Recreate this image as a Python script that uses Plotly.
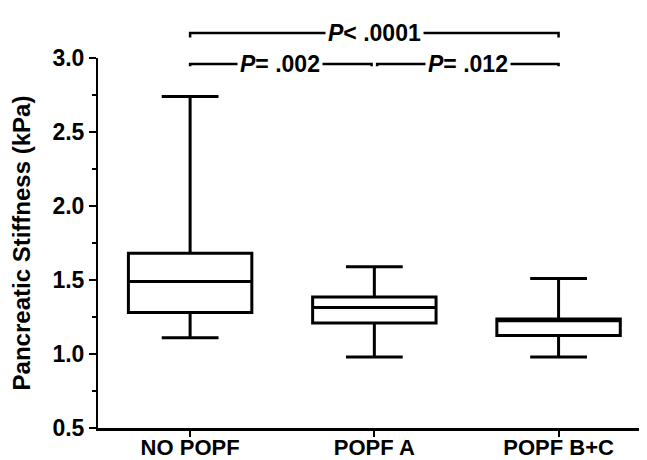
import plotly.graph_objects as go

categories = ["NO POPF", "POPF A", "POPF B+C"]
lower_whisker = [1.11, 0.98, 0.98]
q1_values = [1.28, 1.21, 1.125]
median_values = [1.49, 1.315, 1.225]
q3_values = [1.68, 1.385, 1.237]
upper_whisker = [2.74, 1.59, 1.51]
y_tick_vals = [0.5, 1.0, 1.5, 2.0, 2.5, 3.0]
y_tick_text = ["0.5", "1.0", "1.5", "2.0", "2.5", "3.0"]

FONT = "Liberation Sans, Arial, sans-serif"

fig = go.Figure()
fig.add_trace(go.Box(
    x=categories,
    q1=q1_values,
    median=median_values,
    q3=q3_values,
    lowerfence=lower_whisker,
    upperfence=upper_whisker,
    boxpoints=False,
    fillcolor="white",
    line=dict(color="black", width=3),
    width=0.67,
    whiskerwidth=0.46,
    hoverinfo="skip",
    showlegend=False,
))

# significance brackets (x in category units, y in paper units)
def bracket(x0, x1, yp, hook=0.012):
    fig.add_shape(
        type="path", xref="x", yref="paper",
        path=f"M {x0},{yp - hook} L {x0},{yp} L {x1},{yp} L {x1},{yp - hook}",
        line=dict(color="black", width=2.5),
    )

bracket(0, 2, 1.0676)
bracket(0, 0.985, 0.9838, hook=0.006)
bracket(1.015, 2, 0.9838, hook=0.006)

ann_font = dict(family=FONT, size=23, color="black", weight="bold")
for text, xc, yp in [
    ("<i>P</i>< .0001", 1.0, 1.0676),
    ("<i>P</i>= .002", 0.49, 0.9838),
    ("<i>P</i>= .012", 1.51, 0.9838),
]:
    fig.add_annotation(
        x=xc, y=yp, xref="x", yref="paper", text=text, showarrow=False,
        font=ann_font, bgcolor="white", borderpad=2, yanchor="middle",
    )

# the page body adds an 8 px offset, so the figure is sized to fit the window
fig.update_layout(
    width=639, height=452,
    margin=dict(l=90, r=0, t=50, b=32),
    paper_bgcolor="white", plot_bgcolor="white",
    font=dict(family=FONT, color="black"),
    xaxis=dict(
        type="category",
        range=[-0.5, 2.48],
        automargin=False,
        showline=True, linecolor="black", linewidth=2.5,
        ticks="outside", ticklen=6, tickwidth=2, tickcolor="black",
        ticklabelstandoff=-8,
        tickfont=dict(family=FONT, size=22, color="black", weight="bold"),
        showgrid=False, zeroline=False,
    ),
    yaxis=dict(
        range=[0.5, 3.0],
        automargin=False,
        tickvals=y_tick_vals, ticktext=y_tick_text,
        showline=True, linecolor="black", linewidth=2,
        ticks="outside", ticklen=7, tickwidth=2, tickcolor="black",
        tickfont=dict(family=FONT, size=23, color="black", weight="bold"),
        minor=dict(ticks="outside", ticklen=4, tickwidth=2, tickcolor="black", dtick=0.25, showgrid=False),
        showgrid=False, zeroline=False,
        title=dict(text="Pancreatic Stiffness (kPa)", standoff=28,
                   font=dict(family=FONT, size=24, color="black", weight="bold")),
    ),
)

fig.write_html("out.html")
